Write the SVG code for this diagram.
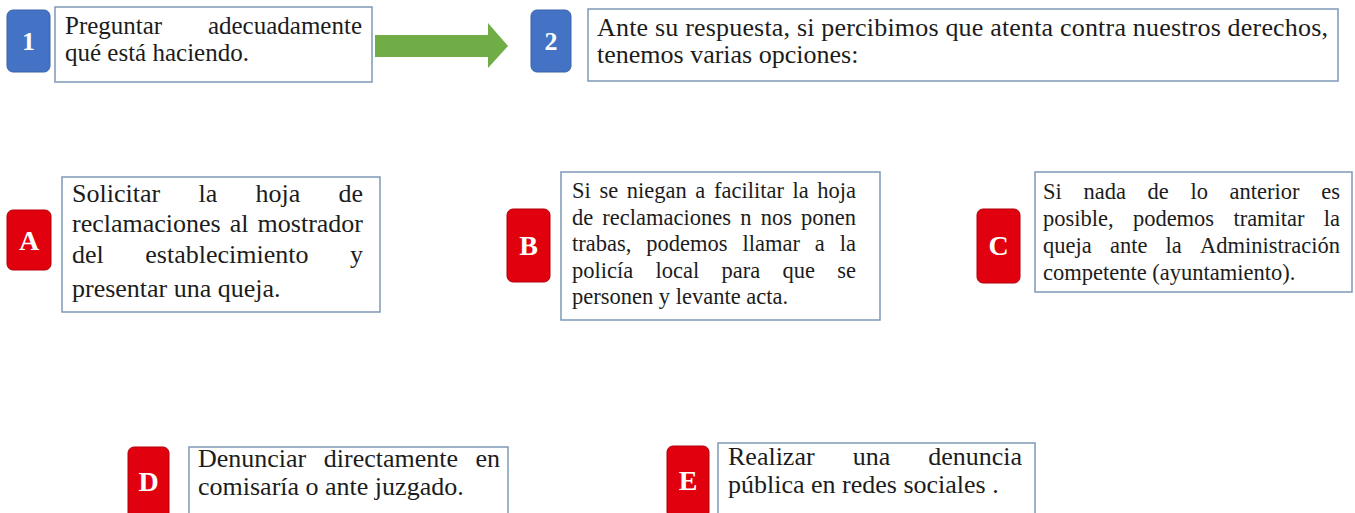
<svg xmlns="http://www.w3.org/2000/svg" width="1355" height="513" viewBox="0 0 1355 513">
<style>
.box{fill:#ffffff;stroke:#7D98B8;stroke-width:1.5}
.bb{fill:#4472C4;stroke:#3A62AA;stroke-width:1}
.rb{fill:#E0000E;stroke:#B0000A;stroke-width:1}
.bl{font-family:"Liberation Serif","Times New Roman",serif;font-weight:bold;fill:#ffffff;text-anchor:middle}
.t{font-family:"Liberation Serif","Times New Roman",serif;fill:#1c1c1c}
.L{font-size:26px}
.S{font-size:22.5px}
.m{text-anchor:middle}
.e{text-anchor:end}
</style>
<rect width="1355" height="513" fill="#ffffff"/>
<g id="connectors">
<polygon points="375,35 488,35 488,23 508,46 488,68 488,57 375,57" fill="#70AD47"/>
</g>
<g id="node-1">
<rect class="bb" x="7" y="10" width="43" height="62" rx="6"/>
<text class="bl" x="28.5" y="50" font-size="26">1</text>
<rect class="box" x="55" y="7" width="317" height="75"/>
<text class="t" font-size="25px" x="65" y="34">Preguntar</text>
<text class="t e" font-size="25px" x="362" y="34">adecuadamente</text>
<text class="t" font-size="25px" x="65" y="61">qué está haciendo.</text>
</g>
<g id="node-2">
<rect class="bb" x="531" y="10" width="40" height="62" rx="6"/>
<text class="bl" x="551" y="50" font-size="26">2</text>
<rect class="box" x="588" y="9" width="750" height="72"/>
<text class="t L" x="597" y="36" textLength="731" lengthAdjust="spacing">Ante su respuesta, si percibimos que atenta contra nuestros derechos,</text>
<text class="t L" x="597" y="63">tenemos varias opciones:</text>
</g>
<g id="node-A">
<rect class="rb" x="7" y="210" width="44" height="60" rx="6"/>
<text class="bl" x="29" y="250" font-size="28">A</text>
<rect class="box" x="62" y="177" width="318" height="135"/>
<g class="t L">
<text x="72" y="202">Solicitar</text><text class="m" x="207.8" y="202">la</text><text class="m" x="277.9" y="202">hoja</text><text class="e" x="363" y="202">de</text>
<text x="72" y="232">reclamaciones</text><text class="m" x="239.2" y="232">al</text><text class="e" x="363" y="232">mostrador</text>
<text x="72" y="263">del</text><text class="m" x="226.9" y="263">establecimiento</text><text class="e" x="363" y="263">y</text>
<text x="72" y="297">presentar una queja.</text>
</g>
</g>
<g id="node-B">
<rect class="rb" x="507" y="209" width="43" height="73" rx="6"/>
<text class="bl" x="528.5" y="255" font-size="28">B</text>
<rect class="box" x="561" y="172" width="319" height="148"/>
<g class="t S">
<text x="572" y="198">Si</text><text class="m" x="608.8" y="198">se</text><text class="m" x="656.7" y="198">niegan</text><text class="m" x="700.3" y="198">a</text><text class="m" x="748.9" y="198">facilitar</text><text class="m" x="800.6" y="198">la</text><text class="e" x="856" y="198">hoja</text>
<text x="572" y="224.5">de</text><text class="m" x="666.7" y="224.5">reclamaciones</text><text class="m" x="745.9" y="224.5">n</text><text class="m" x="776.3" y="224.5">nos</text><text class="e" x="856" y="224.5">ponen</text>
<text x="572" y="251">trabas,</text><text class="m" x="686.9" y="251">podemos</text><text class="m" x="771.2" y="251">llamar</text><text class="m" x="819.8" y="251">a</text><text class="e" x="856" y="251">la</text>
<text x="572" y="277.5">policía</text><text class="m" x="677.4" y="277.5">local</text><text class="m" x="740.9" y="277.5">para</text><text class="m" x="798.8" y="277.5">que</text><text class="e" x="856" y="277.5">se</text>
<text x="572" y="304">personen y levante acta.</text>
</g>
</g>
<g id="node-C">
<rect class="rb" x="977" y="209" width="43" height="74" rx="6"/>
<text class="bl" x="998.5" y="255" font-size="28">C</text>
<rect class="box" x="1035" y="172" width="317" height="120"/>
<g class="t S">
<text x="1043" y="199">Si</text><text class="m" x="1104.7" y="199">nada</text><text class="m" x="1158.2" y="199">de</text><text class="m" x="1199.2" y="199">lo</text><text class="m" x="1264.6" y="199">anterior</text><text class="e" x="1340" y="199">es</text>
<text x="1043" y="226">posible,</text><text class="m" x="1173.5" y="226">podemos</text><text class="m" x="1269" y="226">tramitar</text><text class="e" x="1340" y="226">la</text>
<text x="1043" y="253">queja</text><text class="m" x="1128.7" y="253">ante</text><text class="m" x="1173.7" y="253">la</text><text class="e" x="1340" y="253">Administración</text>
<text x="1043" y="280">competente (ayuntamiento).</text>
</g>
</g>
<g id="node-D">
<rect class="rb" x="128" y="447" width="41" height="72" rx="6"/>
<text class="bl" x="148.5" y="491" font-size="28">D</text>
<rect class="box" x="189" y="447" width="319" height="72"/>
<g class="t L">
<text x="198" y="467">Denunciar</text><text class="m" x="390.9" y="467">directamente</text><text class="e" x="500" y="467">en</text>
<text x="198" y="495">comisaría o ante juzgado.</text>
</g>
</g>
<g id="node-E">
<rect class="rb" x="667" y="446" width="42" height="72" rx="6"/>
<text class="bl" x="688" y="490" font-size="28">E</text>
<rect class="box" x="718" y="443" width="317" height="76"/>
<g class="t L">
<text x="728" y="465">Realizar</text><text class="m" x="871.4" y="465">una</text><text class="e" x="1022" y="465">denuncia</text>
<text x="728" y="493">pública en redes sociales .</text>
</g>
</g>
</svg>
